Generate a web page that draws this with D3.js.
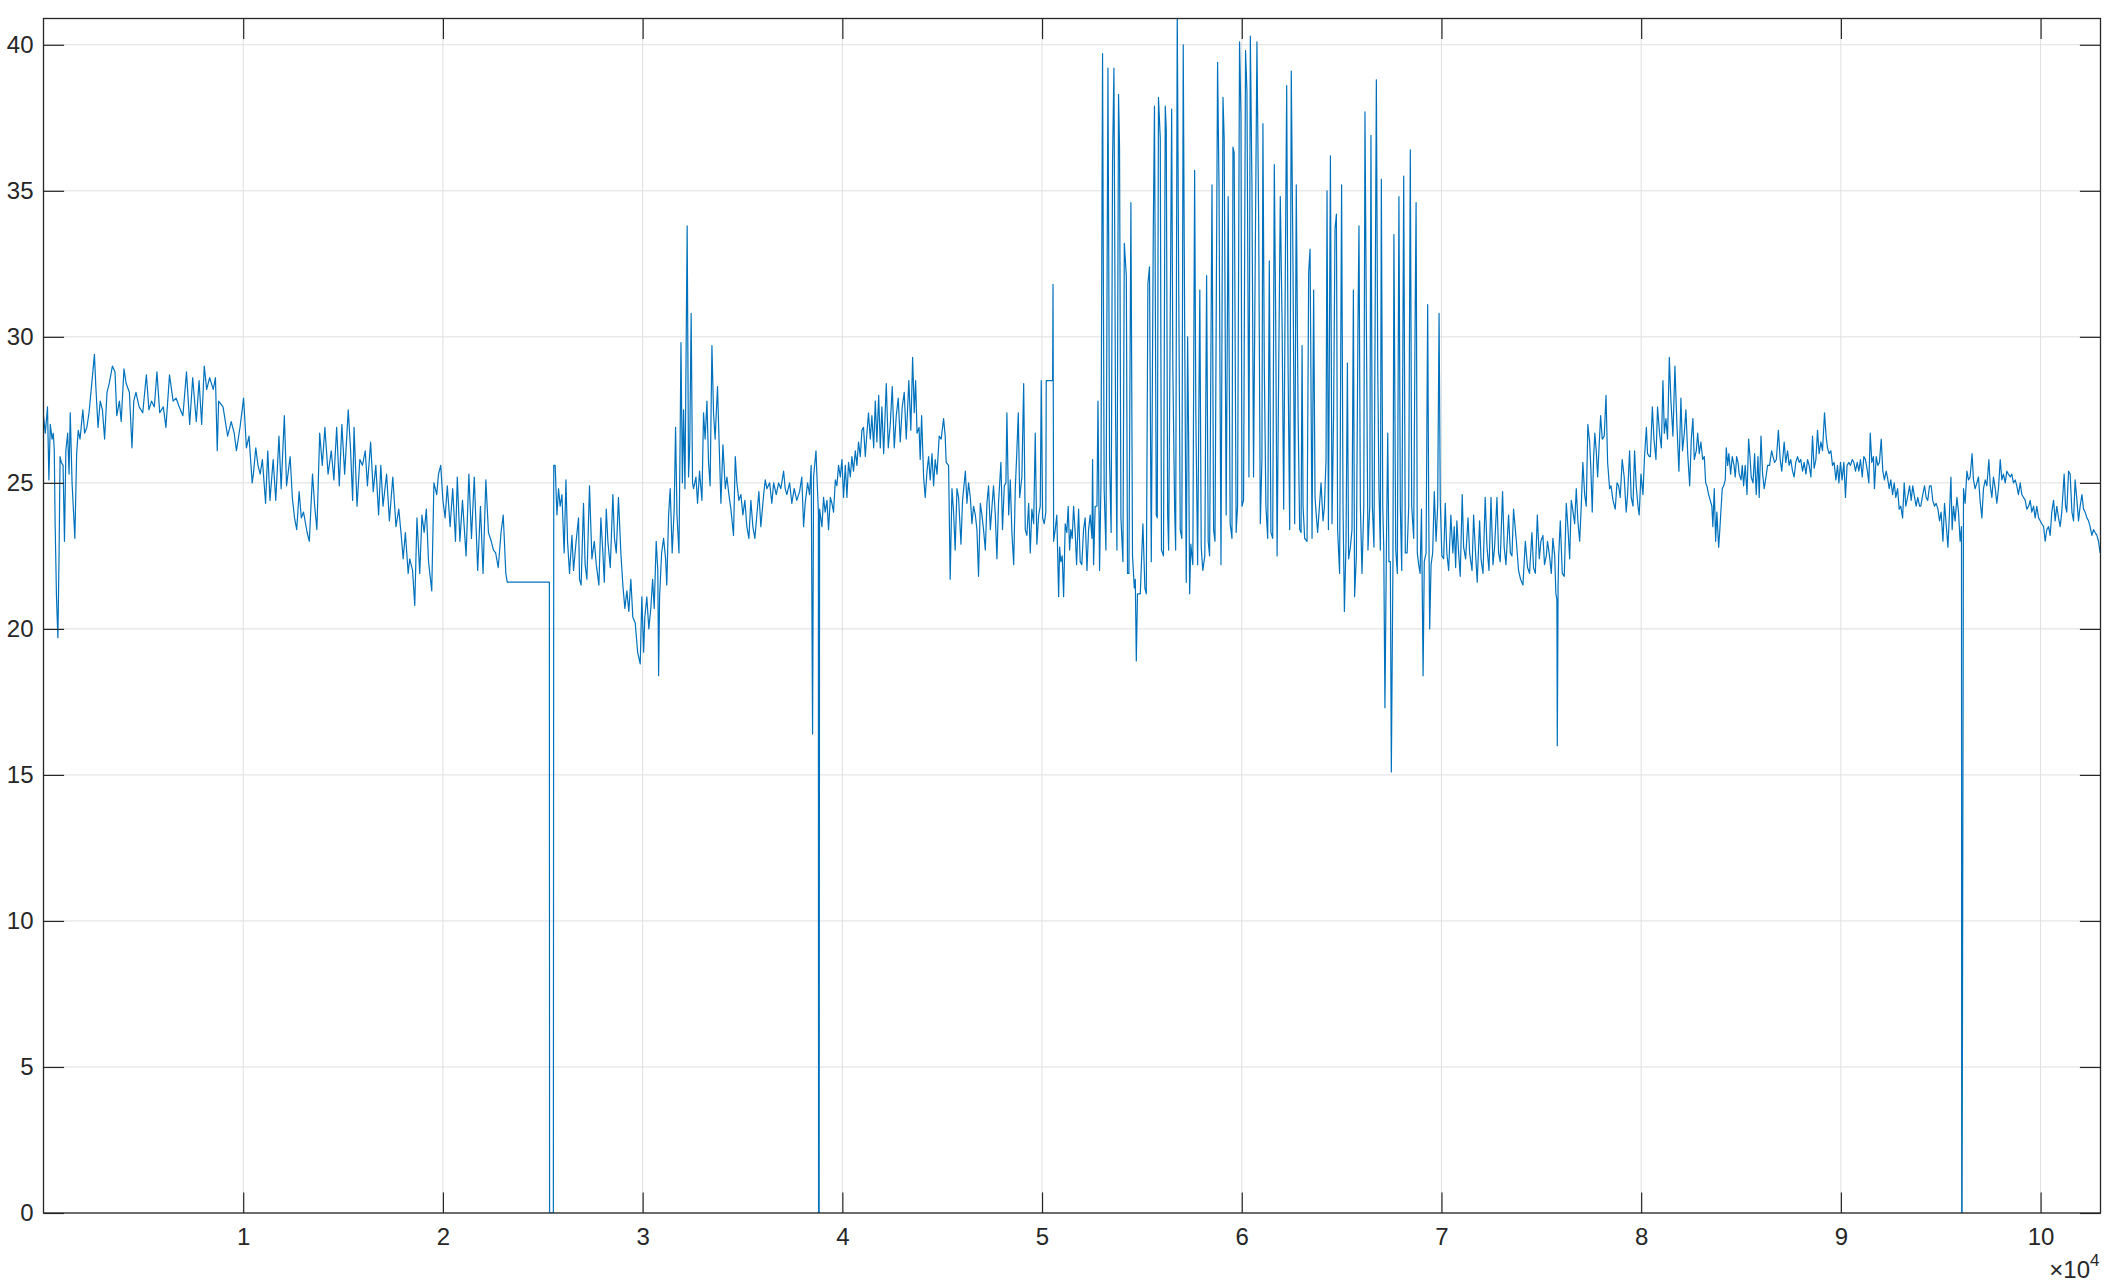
<!DOCTYPE html>
<html lang="en">
<head>
  <meta charset="utf-8">
  <title>signal trace</title>
  <script src="https://d3js.org/d3.v7.min.js"></script>
  <style>
    body { margin: 0; background: #fff; }
    text { font-family: "Liberation Sans", Arial, Helvetica, sans-serif; fill: #262626; }
  </style>
</head>
<body>
<script>
// readings: [sample index in thousands, value]
var partA = [[0,27.3],[0.09,26.7],[0.2,27.6],[0.27,25.1],[0.34,27.0],[0.43,26.5],[0.49,26.7],[0.54,26.1],[0.58,23.7],[0.65,21.1],[0.72,19.7],[0.78,22.6],[0.83,25.9],[0.89,25.7],[0.98,25.6],[1.05,23.0],[1.12,26.1],[1.21,26.7],[1.28,25.3],[1.34,27.4],[1.43,25.0],[1.57,23.1],[1.66,26.0],[1.74,26.8],[1.83,26.5],[1.97,27.5],[2.06,26.7],[2.17,26.9],[2.28,27.4],[2.39,28.2],[2.55,29.4],[2.62,28.3],[2.73,26.9],[2.84,27.8],[2.95,27.5],[3.06,26.5],[3.18,28.1],[3.29,28.4],[3.45,29.0],[3.58,28.8],[3.67,27.3],[3.80,27.8],[3.89,27.1],[4.03,28.9],[4.14,28.4],[4.30,28.1],[4.43,26.2],[4.52,27.8],[4.63,28.1],[4.79,27.6],[4.97,27.4],[5.15,28.7],[5.28,27.5],[5.41,27.8],[5.55,27.6],[5.68,28.8],[5.82,27.4],[6.00,27.6],[6.13,26.9],[6.31,28.7],[6.49,27.8],[6.64,27.9],[6.80,27.6],[6.98,27.3],[7.16,28.8],[7.32,27.0],[7.47,28.6],[7.65,27.1],[7.79,28.5],[7.92,27.0],[8.05,29.0],[8.17,28.2],[8.32,28.6],[8.50,28.2],[8.61,28.6],[8.70,26.1],[8.77,27.8],[8.99,27.6],[9.22,26.6],[9.40,27.1],[9.55,26.7],[9.66,26.1],[9.84,26.9],[10.02,27.9],[10.16,26.2],[10.29,26.6],[10.45,25.0],[10.51,25.3],[10.63,26.2],[10.74,25.6],[10.85,25.3],[10.96,25.8],[11.12,24.3],[11.23,26.1],[11.34,24.4],[11.50,25.8],[11.63,24.4],[11.79,26.6],[11.90,24.8],[12.06,27.3],[12.17,24.9],[12.35,25.9],[12.46,24.5],[12.57,23.8],[12.68,23.4],[12.80,24.7],[12.91,23.8],[13.02,24.0],[13.20,23.3],[13.31,23.0],[13.47,25.3],[13.58,24.2],[13.69,23.4],[13.83,26.7],[13.96,25.6],[14.09,26.9],[14.25,25.3],[14.41,26.1],[14.54,25.1],[14.68,26.9],[14.81,24.9],[14.94,27.0],[15.08,25.3],[15.26,27.5],[15.37,26.2],[15.48,24.4],[15.55,26.9],[15.70,24.2],[15.84,25.8],[15.97,25.6],[16.11,26.1],[16.22,24.9],[16.38,26.4],[16.51,24.7],[16.64,25.6],[16.78,23.9],[16.89,25.6],[17.00,24.2],[17.18,25.3],[17.32,23.7],[17.49,25.2],[17.65,23.5],[17.79,24.1],[17.90,23.3],[18.01,22.4],[18.12,23.3],[18.26,21.9],[18.34,22.4],[18.48,22.0],[18.59,20.8],[18.70,23.8],[18.84,21.9],[18.95,23.9],[19.06,23.3],[19.17,24.1],[19.28,22.3],[19.44,21.3],[19.55,25.0],[19.69,24.6],[19.78,25.3],[19.89,25.6],[20.00,24.4],[20.11,23.8],[20.22,24.9],[20.36,23.5],[20.49,24.8],[20.63,23.0],[20.72,25.2],[20.85,23.0],[20.98,24.4],[21.16,22.5],[21.30,25.3],[21.43,23.1],[21.57,25.2],[21.74,22.0],[21.88,24.2],[22.01,21.9],[22.15,25.1],[22.28,23.3],[22.42,23.0],[22.53,22.7],[22.64,22.6],[22.77,22.1],[22.91,23.3],[23.02,23.9],[23.15,21.9],[23.22,21.6],[25.33,21.6],[25.34,0],[25.53,0]];

var partB = [[25.55,25.6],[25.62,25.6],[25.71,23.9],[25.79,24.8],[25.87,24.2],[25.96,24.6],[26.07,22.6],[26.16,25.1],[26.24,23.0],[26.34,21.9],[26.46,23.2],[26.54,22.0],[26.67,23.0],[26.79,23.8],[26.84,21.7],[26.92,21.5],[27.04,24.3],[27.12,22.2],[27.21,21.7],[27.34,24.9],[27.46,22.4],[27.58,23.0],[27.68,22.2],[27.81,21.5],[27.91,23.8],[28.01,22.6],[28.08,21.6],[28.18,24.1],[28.26,23.0],[28.38,22.1],[28.51,24.6],[28.59,23.1],[28.68,22.6],[28.79,24.5],[28.91,22.6],[29.01,21.5],[29.11,20.7],[29.21,21.3],[29.31,20.6],[29.41,21.7],[29.51,20.4],[29.63,20.2],[29.75,19.2],[29.88,18.8],[29.96,21.1],[30.05,19.2],[30.11,20.4],[30.21,21.1],[30.31,20.0],[30.41,20.7],[30.50,21.7],[30.58,20.7],[30.68,23.0],[30.76,22.0],[30.80,18.4],[30.85,21.1],[30.95,22.6],[31.05,23.1],[31.15,22.4],[31.21,21.5],[31.30,23.9],[31.38,24.8],[31.48,22.6],[31.58,24.1],[31.65,26.9],[31.72,23.9],[31.82,22.6],[31.88,26.7],[31.92,29.8],[31.99,25.0],[32.05,27.5],[32.12,24.8],[32.23,33.8],[32.30,25.2],[32.36,26.3],[32.43,30.8],[32.50,25.0],[32.55,24.8],[32.67,25.2],[32.75,24.3],[32.85,25.4],[32.97,24.4],[33.05,27.4],[33.13,26.5],[33.22,27.8],[33.30,25.7],[33.38,24.9],[33.47,29.7],[33.55,27.4],[33.63,26.5],[33.75,28.3],[33.85,25.9],[33.92,24.3],[34.02,26.3],[34.14,24.8],[34.22,25.2],[34.32,24.6],[34.42,24.1],[34.55,23.2],[34.64,25.9],[34.72,25.0],[34.82,24.4],[34.92,24.6],[35.02,23.9],[35.12,24.4],[35.22,23.5],[35.32,23.1],[35.42,24.4],[35.52,23.5],[35.62,23.1],[35.72,23.9],[35.82,24.7],[35.92,23.5],[36.06,24.6],[36.14,25.1],[36.22,24.8],[36.36,25.0],[36.47,24.3],[36.56,25.0],[36.69,24.6],[36.81,25.0],[36.92,24.8],[37.06,25.4],[37.14,24.8],[37.22,24.6],[37.36,25.0],[37.47,24.3],[37.59,24.8],[37.72,24.4],[37.86,24.7],[37.97,25.2],[38.06,23.5],[38.14,24.3],[38.26,25.0],[38.36,24.6],[38.44,25.6],[38.51,16.4],[38.56,25.2],[38.68,26.1],[38.73,25.2],[38.80,24.0],[38.81,0],[38.84,0]];

var partC = [[38.86,24.1],[38.98,23.5],[39.06,24.5],[39.14,24.0],[39.23,24.4],[39.31,23.4],[39.40,24.5],[39.48,24.3],[39.56,24.0],[39.65,25.1],[39.73,24.9],[39.81,25.6],[39.90,25.2],[39.98,25.8],[40.06,24.5],[40.15,25.6],[40.23,24.5],[40.31,25.7],[40.40,25.2],[40.48,25.9],[40.56,25.4],[40.65,26.1],[40.73,25.6],[40.81,26.4],[40.90,25.9],[40.98,26.8],[41.06,26.9],[41.15,25.9],[41.23,26.7],[41.31,27.4],[41.40,26.5],[41.48,27.3],[41.57,26.2],[41.65,27.8],[41.73,26.4],[41.82,28.0],[41.90,26.2],[41.98,27.6],[42.07,26.0],[42.20,28.4],[42.30,26.2],[42.40,27.0],[42.50,28.3],[42.60,26.2],[42.70,27.3],[42.80,27.9],[42.90,26.4],[43.00,27.6],[43.10,28.1],[43.20,26.5],[43.33,28.5],[43.43,26.8],[43.52,29.3],[43.60,27.4],[43.67,28.5],[43.74,26.7],[43.84,26.9],[43.90,25.8],[43.97,27.3],[44.07,25.2],[44.15,24.5],[44.24,25.4],[44.32,25.9],[44.40,25.1],[44.49,26.0],[44.57,24.9],[44.65,25.8],[44.74,25.3],[44.85,26.6],[44.95,26.5],[45.07,27.2],[45.15,26.6],[45.20,25.7],[45.32,25.6],[45.40,21.7],[45.49,24.8],[45.57,24.0],[45.65,22.7],[45.74,24.8],[45.82,24.5],[45.94,22.9],[46.02,24.4],[46.16,25.4],[46.24,24.3],[46.32,25.0],[46.41,24.5],[46.49,23.6],[46.57,24.2],[46.66,23.9],[46.74,23.4],[46.82,21.8],[46.91,24.3],[46.99,23.9],[47.07,23.4],[47.16,22.7],[47.24,24.3],[47.32,24.9],[47.41,23.4],[47.57,24.9],[47.66,23.9],[47.74,22.4],[47.82,24.3],[47.94,25.7],[48.02,23.4],[48.11,24.9],[48.19,25.0],[48.24,27.4],[48.33,23.9],[48.41,25.1],[48.49,23.3],[48.58,22.2],[48.66,24.8],[48.74,26.1],[48.81,27.4],[48.88,24.5],[48.99,25.2],[49.08,28.4],[49.16,23.4],[49.24,23.2],[49.33,24.3],[49.41,22.6],[49.49,24.1],[49.58,23.6],[49.66,26.7],[49.74,22.9],[49.83,23.9],[49.91,24.2],[49.96,28.5],[50.03,23.8],[50.11,23.6],[50.19,24.0],[50.21,28.5],[50.53,28.5],[50.55,31.8]];

var partD = [[50.58,23.0],[50.66,23.4],[50.74,23.9],[50.83,21.1],[50.88,22.8],[50.94,22.3],[51.01,22.5],[51.08,21.1],[51.16,23.6],[51.24,23.3],[51.31,24.2],[51.38,22.7],[51.44,23.4],[51.51,23.1],[51.58,24.2],[51.66,23.3],[51.73,22.2],[51.83,24.1],[51.91,22.3],[51.99,22.2],[52.08,23.4],[52.16,23.8],[52.25,22.0],[52.33,23.4],[52.41,23.9],[52.50,23.1],[52.53,25.8],[52.58,22.2],[52.66,24.2],[52.75,24.2],[52.80,27.8],[52.88,22.0],[52.95,25.0],[53.03,39.7],[53.11,24.8],[53.20,22.7],[53.30,39.2],[53.38,25.8],[53.46,23.3],[53.53,36.0],[53.60,39.2],[53.68,27.4],[53.75,22.7],[53.83,38.3],[53.88,36.5],[53.95,23.8],[54.05,22.3],[54.12,33.2],[54.22,32.1],[54.28,21.9],[54.35,21.9],[54.45,34.6],[54.53,22.5],[54.62,21.4],[54.67,21.7],[54.72,18.9],[54.78,21.2],[54.92,21.2],[55.05,23.6],[55.15,21.4],[55.22,21.2],[55.30,31.8],[55.38,32.4],[55.47,22.3],[55.57,33.6],[55.63,37.9],[55.72,23.9],[55.77,23.8],[55.83,38.2],[55.92,36.8],[55.98,22.7],[56.08,22.5],[56.17,37.9],[56.22,37.1],[56.29,23.9],[56.34,22.7],[56.49,37.8],[56.55,28.9],[56.64,24.1],[56.69,22.7],[56.77,41.2],[56.84,32.1],[56.92,23.4],[57.00,23.1],[57.07,40.0],[57.14,30.5],[57.22,21.6],[57.29,30.0],[57.34,26.4],[57.39,21.2],[57.45,22.9],[57.55,22.2],[57.64,35.7],[57.70,27.4],[57.79,22.2],[57.90,31.6],[57.97,22.8],[58.05,22.0],[58.15,22.5],[58.24,32.1],[58.32,23.0],[58.39,22.5],[58.51,35.2],[58.59,23.4],[58.66,23.0],[58.79,39.4],[58.86,35.2],[58.96,22.2],[59.06,38.2],[59.12,36.8],[59.22,23.9],[59.32,34.8],[59.42,23.6],[59.51,23.1],[59.56,36.5],[59.62,36.3],[59.72,23.3],[59.79,24.2],[59.89,40.1],[59.96,37.6],[60.01,24.2],[60.09,24.4],[60.19,39.8],[60.26,38.4],[60.36,25.2],[60.43,40.3],[60.51,35.2],[60.59,25.2]];

var partE = [[60.76,40.1],[60.85,33.7],[60.93,23.6],[61.01,25.8],[61.06,37.3],[61.13,28.9],[61.21,24.2],[61.30,23.1],[61.38,32.6],[61.46,23.3],[61.55,23.1],[61.63,35.9],[61.70,30.5],[61.77,22.5],[61.85,28.9],[61.93,34.8],[62.02,30.5],[62.10,24.1],[62.18,32.1],[62.25,38.6],[62.32,28.9],[62.40,23.4],[62.48,39.1],[62.57,32.1],[62.65,23.6],[62.73,35.2],[62.82,27.4],[62.90,23.4],[62.97,23.3],[63.02,29.7],[63.07,24.2],[63.15,23.1],[63.27,23.0],[63.35,32.2],[63.42,33.0],[63.52,23.1],[63.60,31.6],[63.67,24.5],[63.73,23.9],[63.80,23.3],[63.89,24.2],[63.97,25.0],[64.07,23.7],[64.14,24.2],[64.22,25.8],[64.27,35.0],[64.34,23.4],[64.44,36.2],[64.52,23.6],[64.60,27.4],[64.67,33.7],[64.74,34.2],[64.80,23.4],[64.90,21.9],[65.00,35.2],[65.07,24.2],[65.14,20.6],[65.22,22.9],[65.29,29.1],[65.35,22.4],[65.44,22.8],[65.52,23.4],[65.59,31.6],[65.65,21.1],[65.74,22.5],[65.82,30.5],[65.87,33.8],[65.94,24.2],[66.02,21.9],[66.11,24.2],[66.17,37.7],[66.24,30.5],[66.32,22.7],[66.41,24.2],[66.47,36.9],[66.54,24.2],[66.62,22.8],[66.74,38.8],[66.81,28.9],[66.87,24.8],[66.94,22.7],[66.99,35.4],[67.06,24.2],[67.11,22.8],[67.17,17.3],[67.24,22.6],[67.31,26.7],[67.37,22.3],[67.44,22.3],[67.49,15.1],[67.57,22.2],[67.62,33.5],[67.71,22.7],[67.79,21.9],[67.87,34.8],[67.94,24.2],[68.01,22.0],[68.11,35.5],[68.19,22.6],[68.28,22.6],[68.36,24.2],[68.44,36.4],[68.51,24.2],[68.61,23.1],[68.68,30.5],[68.73,34.6],[68.79,22.6],[68.86,22.2],[68.93,21.9],[69.00,24.1],[69.08,18.4],[69.14,22.3],[69.23,22.6],[69.31,31.1],[69.36,24.2],[69.41,20.0],[69.48,22.2],[69.56,22.6],[69.64,24.7],[69.73,23.0],[69.81,24.2],[69.88,30.8]];

var partF = [[69.94,24.4],[70.02,22.5],[70.11,22.4],[70.19,24.3],[70.27,22.6],[70.36,22.0],[70.47,23.9],[70.57,22.6],[70.64,23.5],[70.71,22.1],[70.77,23.7],[70.86,22.6],[70.94,21.8],[71.04,24.6],[71.11,22.8],[71.21,22.4],[71.33,23.8],[71.41,22.6],[71.53,22.0],[71.61,23.9],[71.69,22.8],[71.79,21.6],[71.91,23.7],[71.98,22.4],[72.08,21.9],[72.19,24.5],[72.28,22.8],[72.38,22.0],[72.48,24.5],[72.58,22.2],[72.66,22.8],[72.78,24.5],[72.86,22.6],[72.94,22.3],[73.06,24.7],[73.14,22.8],[73.23,22.2],[73.36,23.9],[73.45,22.6],[73.53,22.5],[73.61,24.1],[73.75,23.0],[73.86,22.0],[73.96,21.7],[74.08,21.5],[74.20,23.0],[74.31,22.1],[74.41,21.9],[74.53,23.3],[74.61,22.1],[74.70,21.9],[74.80,23.9],[74.90,22.4],[74.98,23.0],[75.08,23.2],[75.16,22.2],[75.25,22.5],[75.31,23.0],[75.41,22.5],[75.50,21.9],[75.58,23.1],[75.67,22.5],[75.73,21.2],[75.78,21.0],[75.80,16.0],[75.84,21.5],[75.87,22.5],[75.95,23.7],[76.05,21.9],[76.15,21.8],[76.25,24.3],[76.33,23.5],[76.42,22.4],[76.50,24.4],[76.57,24.1],[76.67,23.6],[76.75,24.8],[76.83,23.7],[76.92,23.0],[77.00,24.2],[77.08,25.7],[77.17,24.6],[77.25,24.2],[77.33,27.0],[77.42,26.4],[77.48,25.5],[77.55,24.0],[77.62,25.9],[77.68,26.7],[77.75,26.1],[77.82,25.2],[77.89,26.2],[77.97,27.3],[78.05,26.5],[78.15,26.6],[78.24,28.0],[78.32,25.7],[78.42,24.8],[78.49,24.9],[78.59,24.4],[78.70,24.1],[78.79,25.0],[78.87,24.9],[78.95,24.5],[79.05,25.8],[79.15,25.2],[79.25,24.0],[79.32,24.6],[79.42,26.1],[79.50,24.5],[79.59,24.2],[79.67,26.1],[79.75,24.9],[79.84,24.2],[79.90,23.9],[79.99,25.3],[80.09,24.6],[80.16,25.8],[80.26,26.9],[80.32,26.0],[80.41,25.9],[80.46,25.9],[80.56,27.6],[80.64,26.5],[80.74,25.8],[80.82,27.6],[80.92,26.7],[81.01,26.2],[81.09,28.5],[81.16,26.7],[81.24,27.2],[81.32,26.5],[81.41,29.3],[81.49,27.8],[81.59,26.6],[81.69,29.0],[81.79,27.0],[81.89,25.4],[81.99,27.9],[82.07,26.1],[82.16,26.7],[82.24,27.5],[82.33,26.0],[82.43,24.9],[82.51,26.5],[82.59,27.2],[82.66,25.8],[82.76,26.1],[82.83,26.7],[82.91,26.0],[82.99,26.4],[83.08,25.8],[83.16,25.9],[83.23,25.0],[83.29,24.9],[83.38,24.6],[83.46,24.4],[83.54,24.2],[83.59,23.5],[83.66,24.8],[83.73,23.0],[83.79,24.0],[83.88,22.8],[83.93,23.3],[83.99,24.0],[84.06,24.8],[84.13,24.9],[84.21,25.1],[84.26,26.2],[84.33,25.6],[84.39,26.0],[84.48,25.3],[84.56,25.9],[84.65,25.6],[84.71,25.2],[84.78,25.9],[84.85,25.7],[84.91,25.3],[85.00,25.1],[85.06,25.6],[85.13,24.9],[85.21,25.6],[85.30,24.6],[85.38,26.5],[85.45,25.9],[85.51,25.2],[85.60,25.0],[85.68,26.0],[85.76,24.6],[85.85,25.9],[85.91,24.5],[86.00,26.6],[86.08,25.3],[86.16,24.8],[86.25,25.2],[86.33,25.6],[86.43,25.6],[86.53,26.1],[86.60,25.9],[86.68,25.7],[86.77,25.8],[86.87,26.8]];

var partG = [[86.96,25.8],[87.04,25.4],[87.16,26.4],[87.24,25.7],[87.33,26.1],[87.41,25.6],[87.49,25.8],[87.58,25.4],[87.66,25.2],[87.74,25.7],[87.83,25.9],[87.91,25.7],[87.99,25.8],[88.08,25.4],[88.16,25.7],[88.25,25.3],[88.33,25.8],[88.41,25.6],[88.50,25.2],[88.58,26.6],[88.66,25.5],[88.75,25.8],[88.83,26.8],[88.91,26.0],[89.00,26.4],[89.08,26.1],[89.18,27.4],[89.26,26.6],[89.33,26.2],[89.41,26.0],[89.50,26.1],[89.58,25.6],[89.66,25.7],[89.75,25.1],[89.83,25.6],[89.90,25.0],[89.98,25.7],[90.06,25.1],[90.15,25.7],[90.23,24.5],[90.31,25.6],[90.40,25.7],[90.48,25.6],[90.57,25.8],[90.65,25.7],[90.73,25.4],[90.82,25.7],[90.90,25.4],[90.98,25.8],[91.07,25.2],[91.15,25.9],[91.23,25.8],[91.33,25.4],[91.40,25.0],[91.47,26.7],[91.55,25.7],[91.63,25.9],[91.68,24.8],[91.77,25.9],[91.85,25.6],[91.93,25.7],[92.02,26.5],[92.10,25.4],[92.18,25.1],[92.27,25.4],[92.33,25.2],[92.42,24.8],[92.50,25.1],[92.59,24.6],[92.67,25.0],[92.75,24.5],[92.84,24.8],[92.92,24.1],[93.00,24.2],[93.09,23.8],[93.17,25.0],[93.25,24.2],[93.34,24.5],[93.44,24.9],[93.52,24.4],[93.60,24.9],[93.69,24.5],[93.77,24.2],[93.85,24.5],[93.94,24.2],[94.00,24.2],[94.10,24.6],[94.19,24.9],[94.27,24.5],[94.35,24.4],[94.44,24.9],[94.52,24.9],[94.60,24.4],[94.69,24.2],[94.77,24.3],[94.86,24.1],[94.94,23.7],[95.02,24.0],[95.11,23.0],[95.19,24.3],[95.27,23.6],[95.36,22.8],[95.44,24.0],[95.51,25.2],[95.57,23.4],[95.64,24.2],[95.72,23.7],[95.81,24.5],[95.89,24.0],[95.97,23.0],[96.04,23.5],[96.05,0],[96.07,0],[96.14,24.8],[96.22,24.3],[96.31,25.4],[96.39,25.1],[96.47,25.2],[96.57,26.0],[96.64,25.1],[96.72,24.8],[96.81,25.0],[96.89,25.2],[96.97,24.4],[97.06,23.8],[97.14,24.8],[97.23,25.1],[97.31,24.9],[97.41,25.8],[97.48,24.9],[97.56,24.5],[97.64,25.2],[97.73,24.8],[97.81,24.3],[97.89,24.8],[97.98,25.8],[98.06,25.1],[98.14,25.3],[98.23,25.0],[98.31,25.4],[98.39,25.3],[98.48,25.2],[98.56,25.3],[98.64,25.0],[98.73,25.1],[98.81,24.9],[98.89,24.6],[98.98,25.0],[99.06,24.6],[99.15,24.5],[99.23,24.4],[99.31,24.1],[99.40,24.2],[99.48,24.4],[99.56,24.0],[99.65,24.2],[99.73,23.8],[99.81,24.2],[99.90,23.8],[99.98,23.7],[100.06,23.6],[100.15,23.5],[100.23,23.0],[100.31,23.4],[100.40,23.5],[100.48,23.2],[100.56,24.0],[100.65,24.4],[100.73,23.7],[100.81,24.2],[100.90,23.8],[100.98,23.5],[101.06,24.0],[101.18,25.3],[101.25,24.2],[101.31,24.0],[101.40,25.4],[101.48,25.3],[101.57,24.0],[101.65,23.7],[101.73,25.1],[101.82,24.4],[101.90,23.7],[101.98,24.2],[102.07,24.6],[102.15,24.1],[102.23,24.0],[102.32,23.8],[102.40,23.7],[102.48,23.5],[102.57,23.2],[102.65,23.4],[102.73,23.3],[102.82,23.2],[102.90,23.0],[102.98,22.6]];

var xTicks = [10000, 20000, 30000, 40000, 50000, 60000, 70000, 80000, 90000, 100000];
var xTickLabels = ["1", "2", "3", "4", "5", "6", "7", "8", "9", "10"];
var yTicks = [0, 5, 10, 15, 20, 25, 30, 35, 40];
var xMax = 103000;
var yMax = 40.9;

var w = 2116;
var h = 1288;
// plot box edges (window.top is read-only, so no bare "top" here)
var plotL = 43.5, plotR = 2100.5, plotT = 18.5, plotB = 1213;
var tickLen = 20.6;
var labelSize = "24px";

var series = [].concat(partA, partB, partC, partD, partE, partF, partG).map(function(d) {
  return {x: d[0] * 1000, y: d[1]};
});

var x = d3.scaleLinear().domain([0, xMax]).range([plotL, plotR]);
var y = d3.scaleLinear().domain([0, yMax]).range([plotB, plotT]);

var svg = d3.select("body")
  .append("svg")
  .attr("width", w)
  .attr("height", h);

svg.append("rect").attr("width", w).attr("height", h).attr("fill", "#fff");

// grid first so it sits under everything
var grid = svg.append("g").attr("stroke", "#dfdfdf").attr("stroke-width", 1);
grid.selectAll("line.vx")
  .data(xTicks)
  .enter()
  .append("line")
  .attr("x1", function(d) { return x(d); })
  .attr("x2", function(d) { return x(d); })
  .attr("y1", plotT)
  .attr("y2", plotB);
grid.selectAll("line.hy")
  .data(yTicks)
  .enter()
  .append("line")
  .attr("x1", plotL)
  .attr("x2", plotR)
  .attr("y1", function(d) { return y(d); })
  .attr("y2", function(d) { return y(d); });

svg.append("clipPath").attr("id", "plotclip")
  .append("rect")
  .attr("x", plotL).attr("y", plotT)
  .attr("width", plotR - plotL).attr("height", plotB - plotT);

var line = d3.line()
  .x(function(d) { return x(d.x); })
  .y(function(d) { return y(d.y); });

svg.append("path")
  .datum(series)
  .attr("clip-path", "url(#plotclip)")
  .attr("fill", "none")
  .attr("stroke", "#0072bd")
  .attr("stroke-width", 1.2)
  .attr("stroke-linejoin", "round")
  .attr("d", line);

// axes, ticks point inward on all four sides
var xAxis = d3.axisBottom(x).tickValues(xTicks)
  .tickFormat(function(d, i) { return xTickLabels[i]; })
  .tickSize(-tickLen).tickPadding(15);
var yAxis = d3.axisLeft(y).tickValues(yTicks).tickSize(-tickLen).tickPadding(10);

var gx = svg.append("g").attr("transform", "translate(0," + plotB + ")").call(xAxis);
var gy = svg.append("g").attr("transform", "translate(" + plotL + ",0)").call(yAxis);
var gt = svg.append("g").attr("transform", "translate(0," + plotT + ")")
  .call(d3.axisTop(x).tickValues(xTicks).tickSize(-tickLen).tickFormat(""));
var gr = svg.append("g").attr("transform", "translate(" + plotR + ",0)")
  .call(d3.axisRight(y).tickValues(yTicks).tickSize(-tickLen).tickFormat(""));

[gx, gy, gt, gr].forEach(function(g) {
  g.select(".domain").remove();
  g.selectAll(".tick line").attr("stroke", "#262626").attr("stroke-width", 1.2);
  g.selectAll(".tick text")
    .attr("fill", "#262626")
    .style("font-size", labelSize)
    .style("font-family", "'Liberation Sans', Arial, Helvetica, sans-serif");
});

svg.append("rect")
  .attr("x", plotL).attr("y", plotT)
  .attr("width", plotR - plotL).attr("height", plotB - plotT)
  .attr("fill", "none")
  .attr("stroke", "#262626")
  .attr("stroke-width", 1.3);

// exponent note under the right end of the x axis
var expo = svg.append("text")
  .attr("x", plotR - 1)
  .attr("y", 1278)
  .attr("text-anchor", "end")
  .style("font-size", labelSize);
expo.append("tspan").text("\u00d710");
expo.append("tspan").attr("dy", -12).style("font-size", "17px").text("4");
</script>
</body>
</html>
